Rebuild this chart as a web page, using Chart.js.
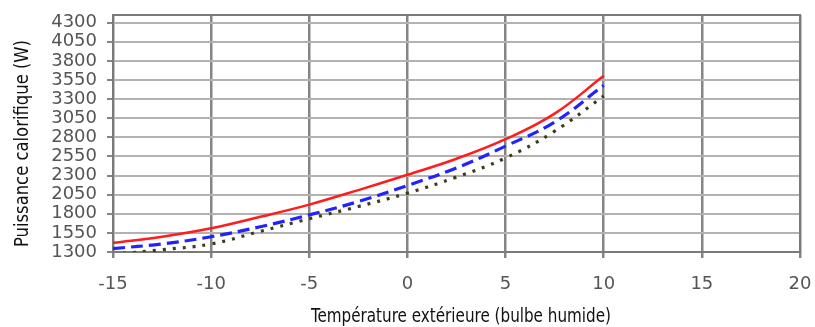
<!DOCTYPE html>
<html>
<head>
<meta charset="utf-8">
<script src="https://cdn.jsdelivr.net/npm/chart.js@4"></script>
<style>
  html, body { margin: 0; padding: 0; background: #ffffff; }
  #wrap { width: 815px; height: 327px; }
</style>
</head>
<body>
<div id="wrap"><canvas id="c" width="815" height="327"></canvas></div>
<script>
// Data
const temps = [-15, -12.5, -10, -7.5, -5, -2.5, 0, 2.5, 5, 7.5, 10];
const redVals = [1420, 1500, 1610, 1760, 1920, 2110, 2310, 2520, 2775, 3110, 3605];
const blueVals = [1345, 1405, 1500, 1630, 1785, 1960, 2170, 2400, 2685, 3000, 3480];
const blackVals = [1270, 1330, 1405, 1570, 1735, 1895, 2070, 2280, 2530, 2880, 3340];
const yTicks = [1300, 1550, 1800, 2050, 2300, 2550, 2800, 3050, 3300, 3550, 3800, 4050, 4300];
const xTitle = 'Température extérieure (bulbe humide)';
const yTitle = 'Puissance calorifique (W)';

const toPts = vals => temps.map((t, i) => ({ x: t, y: vals[i] }));

function fitText(ctx, text, x, y, targetWidth) {
  const w = ctx.measureText(text).width;
  const s = Math.min(1, targetWidth / w);
  ctx.save();
  ctx.translate(x, y);
  ctx.scale(s, 1);
  ctx.fillText(text, 0, 0);
  ctx.restore();
}

const titlePlugin = {
  id: 'frameTitles',
  beforeDatasetsDraw(chart) {
    const { ctx, chartArea: a } = chart;
    ctx.save();
    ctx.strokeStyle = '#7a7a7a';
    ctx.lineWidth = 2;
    ctx.strokeRect(a.left, a.top, a.right - a.left, a.bottom - a.top);
    ctx.restore();
  },
  afterDraw(chart) {
    const { ctx, chartArea: a } = chart;
    ctx.save();
    ctx.fillStyle = '#111111';
    ctx.font = '20px "DejaVu Sans Condensed", "DejaVu Sans", sans-serif';
    ctx.textAlign = 'center';
    ctx.textBaseline = 'alphabetic';
    fitText(ctx, xTitle, 461, a.bottom + 70, 300);
    ctx.translate(28, (a.top + a.bottom) / 2 + 10);
    ctx.rotate(-Math.PI / 2);
    fitText(ctx, yTitle, 0, 0, 207);
    ctx.restore();
  }
};

new Chart(document.getElementById('c'), {
  type: 'line',
  data: {
    datasets: [
      {
        label: 'Courbe 1',
        data: toPts(redVals),
        borderColor: '#ff1c1c',
        borderWidth: 2.5,
        pointRadius: 0,
        tension: 0.4,
        order: 1
      },
      {
        label: 'Courbe 2',
        data: toPts(blueVals),
        borderColor: '#2222ff',
        borderWidth: 3.2,
        borderDash: [12, 6],
        pointRadius: 0,
        tension: 0.4,
        order: 2
      },
      {
        label: 'Courbe 3',
        data: toPts(blackVals),
        borderColor: '#3b3b1e',
        borderWidth: 3.2,
        borderDash: [3, 7],
        pointRadius: 0,
        tension: 0.4,
        order: 3
      }
    ]
  },
  options: {
    responsive: false,
    animation: false,
    devicePixelRatio: 1,
    layout: { padding: { left: 0, top: 15, right: 15, bottom: 0 } },
    plugins: { legend: { display: false }, tooltip: { enabled: false } },
    scales: {
      x: {
        type: 'linear',
        min: -15,
        max: 20,
        ticks: {
          stepSize: 5,
          color: '#555555',
          font: { family: 'DejaVu Sans', size: 18 },
          padding: 16,
          maxRotation: 0,
          callback: v => String(v)
        },
        grid: { color: '#858585', lineWidth: 2.5, tickLength: 6, tickColor: '#858585' },
        border: { display: true, color: '#7a7a7a', width: 2 },
        afterFit(scale) { scale.height = 75; scale.paddingLeft = 0; scale.paddingRight = 0; }
      },
      y: {
        type: 'linear',
        min: 1300,
        max: 4400,
        afterBuildTicks(scale) { scale.ticks = yTicks.map(v => ({ value: v })); },
        ticks: {
          color: '#555555',
          font: { family: 'DejaVu Sans', size: 18 },
          padding: 10,
          autoSkip: false,
          callback: v => String(v)
        },
        grid: { color: '#b2b2b2', lineWidth: 2, tickLength: 6, tickColor: '#858585' },
        border: { display: true, color: '#7a7a7a', width: 2 },
        afterFit(scale) { scale.width = 113; scale.paddingTop = 0; scale.paddingBottom = 0; }
      }
    }
  },
  plugins: [titlePlugin]
});
</script>
</body>
</html>
